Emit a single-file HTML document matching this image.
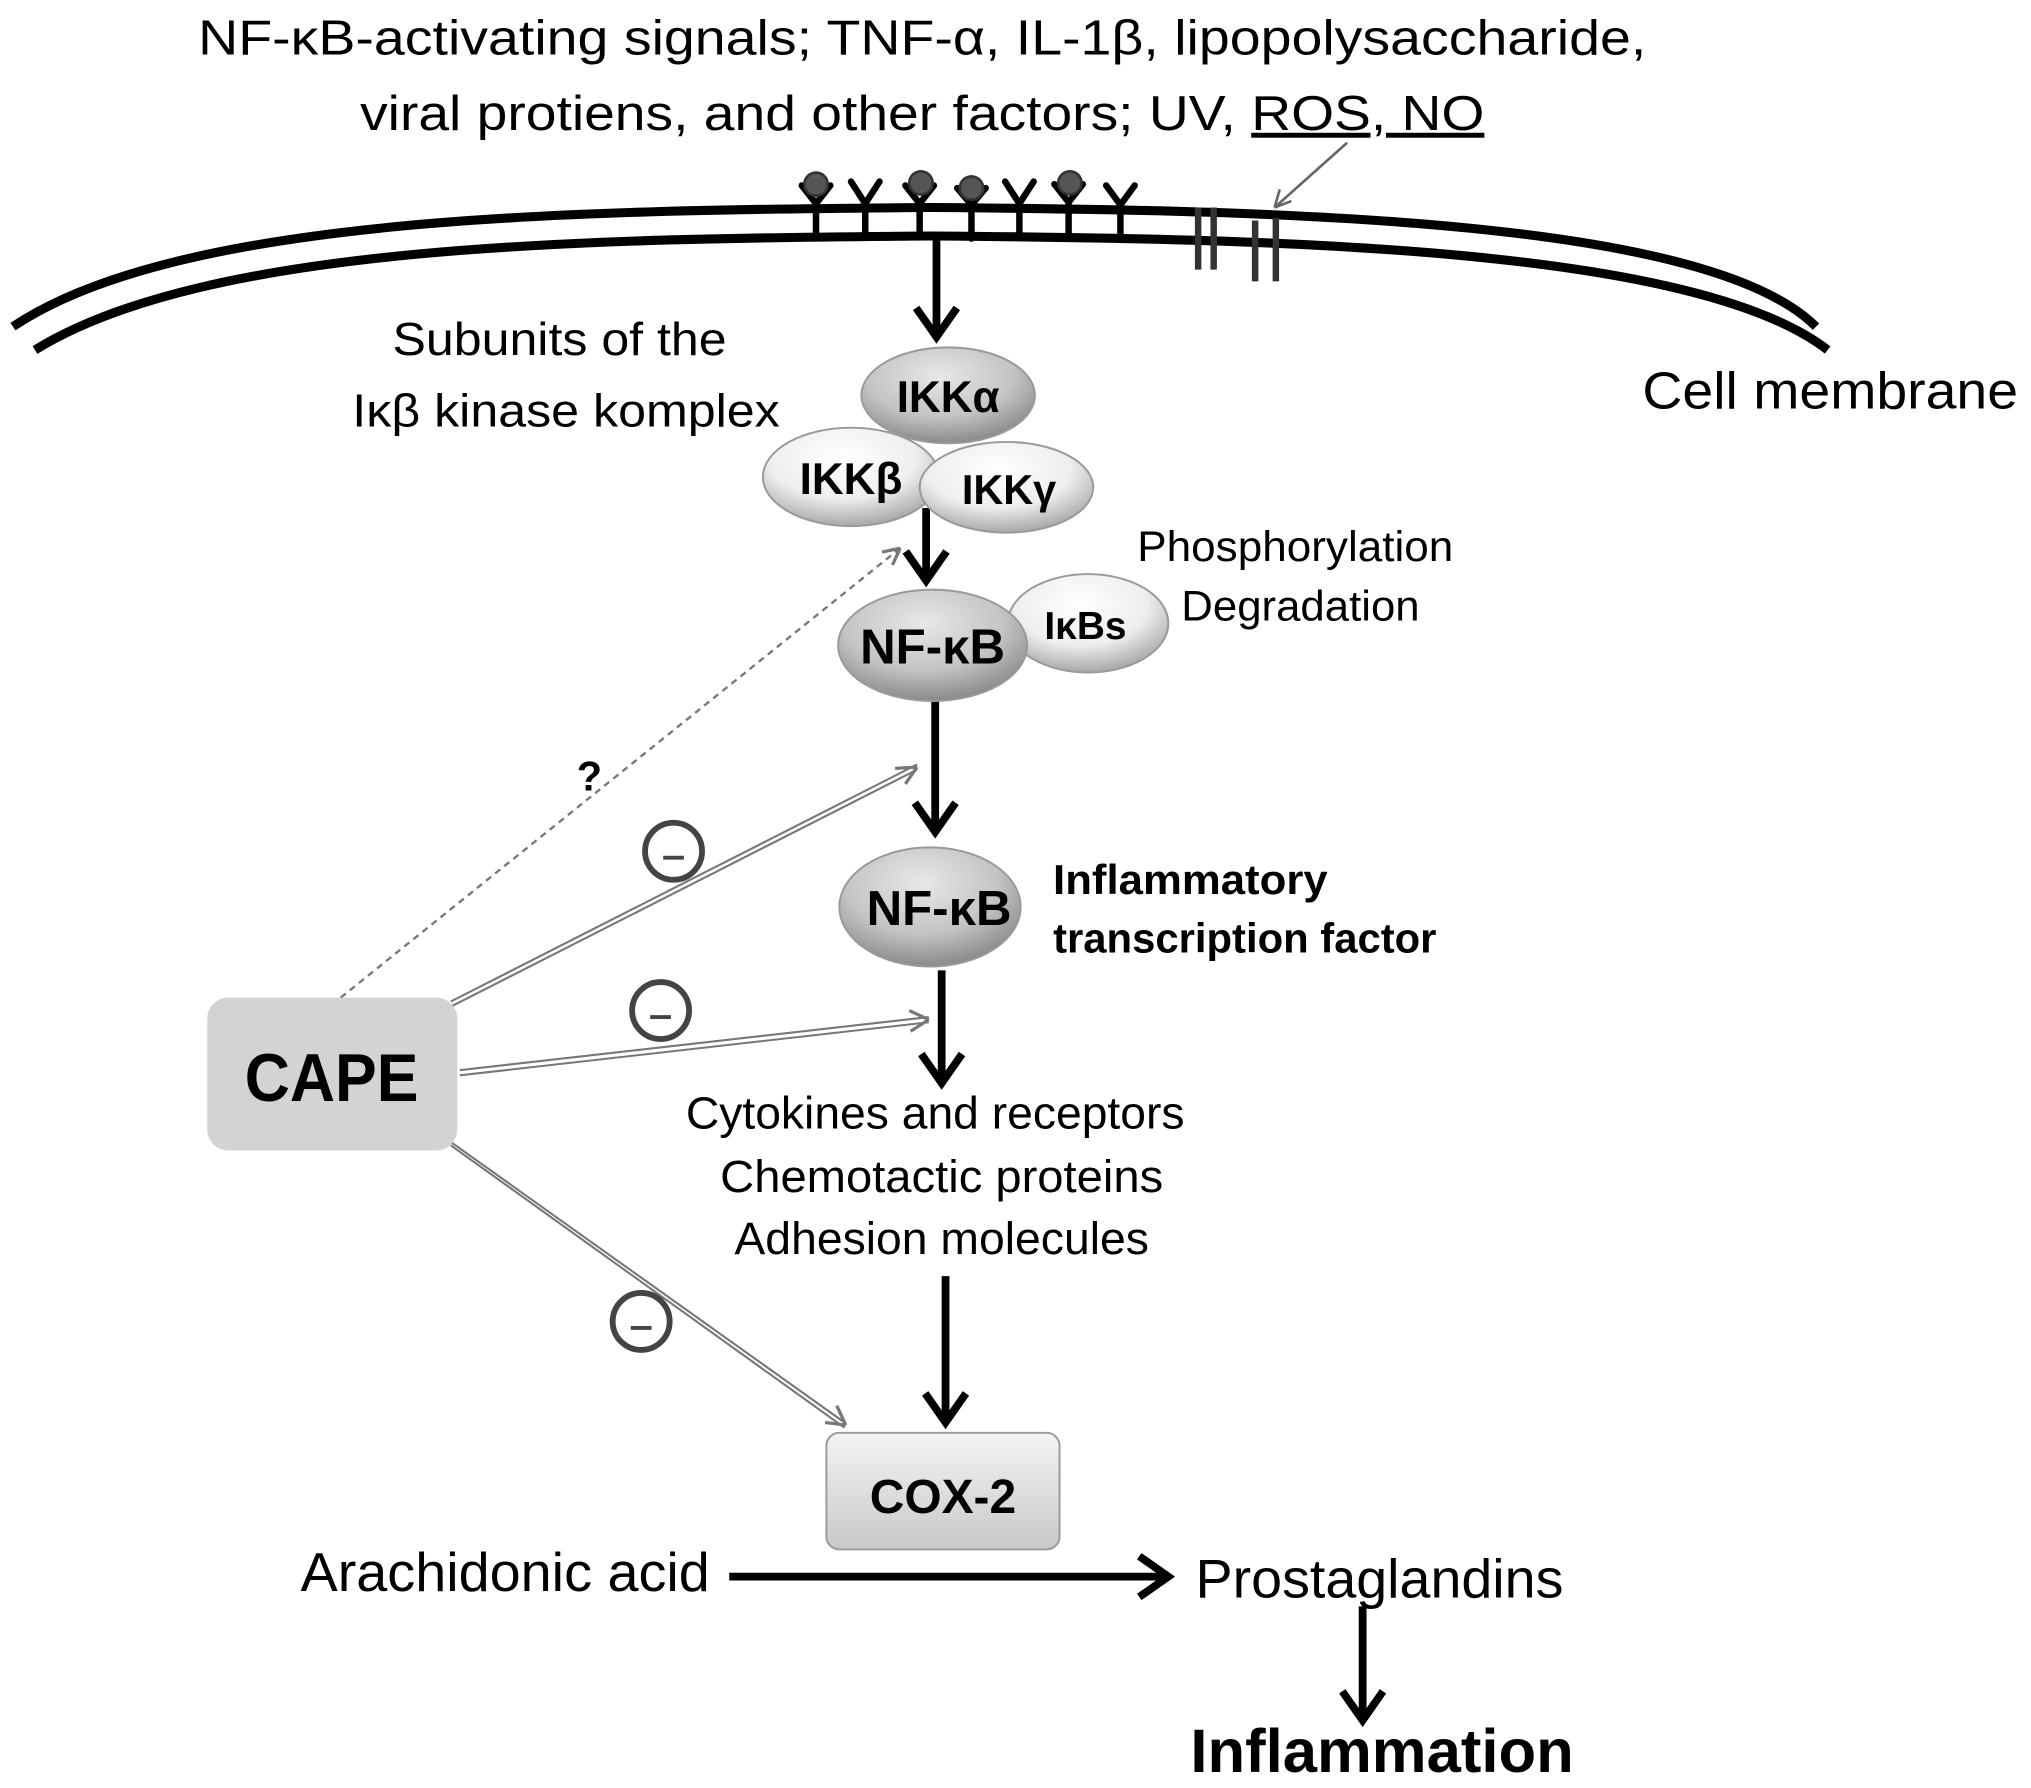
<!DOCTYPE html>
<html><head><meta charset="utf-8"><style>html,body{margin:0;padding:0;background:#fff}svg{display:block}</style></head>
<body>
<svg width="2031" height="1788" viewBox="0 0 1568 1380" xmlns="http://www.w3.org/2000/svg" font-family="Liberation Sans, sans-serif">
<defs>
<radialGradient id="gl" cx="45%" cy="30%" r="70%"><stop offset="0" stop-color="#ffffff"/><stop offset="0.6" stop-color="#eeeeee"/><stop offset="1" stop-color="#a8a8a8"/></radialGradient>
<radialGradient id="gd" cx="45%" cy="30%" r="70%"><stop offset="0" stop-color="#e8e8e8"/><stop offset="0.6" stop-color="#c4c4c4"/><stop offset="1" stop-color="#8a8a8a"/></radialGradient>
<linearGradient id="gb" x1="0" y1="0" x2="0" y2="1"><stop offset="0" stop-color="#f4f4f4"/><stop offset="1" stop-color="#c8c8c8"/></linearGradient>
</defs>

<!-- title -->
<text x="712" y="42" font-size="38" text-anchor="middle" textLength="1118" lengthAdjust="spacingAndGlyphs">NF-κB-activating signals; TNF-α, IL-1β, lipopolysaccharide,</text>
<text x="712" y="100" font-size="38" text-anchor="middle" textLength="868" lengthAdjust="spacingAndGlyphs">viral protiens, and other factors; UV, <tspan text-decoration="underline">ROS, NO</tspan></text>
<line x1="1040" y1="110" x2="984" y2="160" stroke="#666" stroke-width="2"/>
<path d="M984,160 l4,-14 M984,160 l13,-5" stroke="#666" stroke-width="2"/>

<!-- membrane -->
<path d="M10,252 C140,165 450,162 720,160 C1000,162 1320,170 1402,252" fill="none" stroke="#000" stroke-width="7"/>
<path d="M27,270 C160,188 450,184 720,182 C1000,184 1310,192 1411,270" fill="none" stroke="#000" stroke-width="7"/>

<!-- receptors -->
<g stroke="#000" stroke-width="5" fill="none" stroke-linecap="round">
<path d="M630,182 V157 M619,143 L630,157 L641,143"/>
<path d="M668,182 V157 M657,140 L668,157 L679,140"/>
<path d="M710,182 V157 M699,143 L710,157 L721,143"/>
<path d="M750,184 V158 M739,145 L750,158 L761,145"/>
<path d="M787,182 V157 M776,140 L787,157 L798,140"/>
<path d="M825,180 V156 M814,142 L825,156 L836,142"/>
<path d="M865,185 V158 M854,143 L865,158 L876,143"/>
</g>
<g fill="#555" stroke="#333" stroke-width="2">
<circle cx="630" cy="142" r="9"/><circle cx="711" cy="141" r="9"/><circle cx="750" cy="145" r="9"/><circle cx="826" cy="141" r="9"/>
</g>
<g stroke="#333" stroke-width="5">
<line x1="925" y1="160" x2="925" y2="208"/><line x1="937" y1="160" x2="937" y2="208"/>
<line x1="969" y1="170" x2="969" y2="217"/><line x1="985" y1="168" x2="985" y2="217"/>
</g>

<!-- black arrows -->
<g stroke="#000" stroke-width="6" fill="none" stroke-linecap="square">
<line x1="723" y1="188" x2="723" y2="258"/><path d="M709,240 L723,260 L737,240"/>
<line x1="715" y1="395" x2="715" y2="446"/><path d="M701,428 L715,448 L729,428"/>
<line x1="722" y1="543" x2="722" y2="640"/><path d="M708,622 L722,642 L736,622"/>
<line x1="727" y1="752" x2="727" y2="834"/><path d="M713,816 L727,836 L741,816"/>
<line x1="730" y1="988" x2="730" y2="1096"/><path d="M716,1078 L730,1098 L744,1078"/>
<line x1="566" y1="1217" x2="900" y2="1217"/><path d="M882,1203 L902,1217 L882,1231"/>
<line x1="1052" y1="1243" x2="1052" y2="1326"/><path d="M1038,1308 L1052,1328 L1066,1308"/>
</g>

<!-- ellipses -->
<g stroke="#999" stroke-width="1.5">
<ellipse cx="732" cy="305" rx="67" ry="37" fill="url(#gd)"/>
<ellipse cx="657" cy="368" rx="68" ry="38" fill="url(#gl)"/>
<ellipse cx="777" cy="376" rx="67" ry="35" fill="url(#gl)"/>
<ellipse cx="840" cy="481" rx="62" ry="38" fill="url(#gl)"/>
<ellipse cx="720" cy="498" rx="73" ry="43" fill="url(#gd)"/>
<ellipse cx="718" cy="700" rx="70" ry="46" fill="url(#gd)"/>
</g>
<g font-weight="bold" text-anchor="middle">
<text x="732" y="318" font-size="34">IKKα</text>
<text x="657" y="381" font-size="34">IKKβ</text>
<text x="779" y="389" font-size="32">IKKγ</text>
<text x="838" y="493" font-size="30">IκBs</text>
<text x="720" y="512" font-size="38">NF-κB</text>
<text x="725" y="714" font-size="38">NF-κB</text>
</g>

<!-- CAPE lines -->
<g stroke="#777" stroke-width="2.5" fill="none">
<line x1="263" y1="770" x2="695" y2="423" stroke-dasharray="5,4" stroke-width="1.8"/>
<path d="M695,423 l-14,3 M695,423 l-6,13" />
<path d="M348,773 L708,590 M348,777 L708,594" stroke-width="1.6"/>
<path d="M708,592 l-17,1 M708,592 l-9,13"/>
<path d="M355,826 L717,785 M355,830 L717,789" stroke-width="1.6"/>
<path d="M717,787 l-15,-7 M717,787 l-14,9"/>
<path d="M346,880 L652,1098 M348,884 L652,1102" stroke-width="1.6"/>
<path d="M653,1100 l-7,-15 M653,1100 l-16,-2"/>
</g>
<g stroke="#444" stroke-width="4.5" fill="#fff">
<circle cx="520" cy="657" r="22"/><circle cx="510" cy="780" r="22"/><circle cx="495" cy="1020" r="22"/>
</g>
<g stroke="#444" stroke-width="3"><line x1="512" y1="662" x2="528" y2="662"/><line x1="502" y1="785" x2="518" y2="785"/><line x1="487" y1="1025" x2="503" y2="1025"/></g>
<text x="455" y="610" font-size="32" font-weight="bold" text-anchor="middle">?</text>

<!-- boxes -->
<rect x="160" y="770" width="193" height="118" rx="16" fill="#d3d3d3"/>
<text x="256" y="850" font-size="52" font-weight="bold" text-anchor="middle" textLength="134" lengthAdjust="spacingAndGlyphs">CAPE</text>
<rect x="638" y="1106" width="180" height="90" rx="10" fill="url(#gb)" stroke="#999" stroke-width="1.5"/>
<text x="728" y="1168" font-size="37" font-weight="bold" text-anchor="middle">COX-2</text>

<!-- labels -->
<g text-anchor="middle" lengthAdjust="spacingAndGlyphs">
<text x="432" y="274" font-size="36" textLength="258" lengthAdjust="spacingAndGlyphs">Subunits of the</text>
<text x="437" y="329" font-size="36" textLength="330" lengthAdjust="spacingAndGlyphs">Iκβ kinase komplex</text>
<text x="1413" y="315" font-size="40" textLength="290" lengthAdjust="spacingAndGlyphs">Cell membrane</text>
<text x="1000" y="433" font-size="33" textLength="244" lengthAdjust="spacingAndGlyphs">Phosphorylation</text>
<text x="1004" y="479" font-size="33" textLength="184" lengthAdjust="spacingAndGlyphs">Degradation</text>
<text x="722" y="871" font-size="35" textLength="385" lengthAdjust="spacingAndGlyphs">Cytokines and receptors</text>
<text x="727" y="920" font-size="35" textLength="342" lengthAdjust="spacingAndGlyphs">Chemotactic proteins</text>
<text x="727" y="968" font-size="35" textLength="320" lengthAdjust="spacingAndGlyphs">Adhesion molecules</text>
<text x="390" y="1228" font-size="42" textLength="316" lengthAdjust="spacingAndGlyphs">Arachidonic acid</text>
<text x="1065" y="1233" font-size="42" textLength="284" lengthAdjust="spacingAndGlyphs">Prostaglandins</text>
<text x="1067" y="1368" font-size="47" font-weight="bold" textLength="296" lengthAdjust="spacingAndGlyphs">Inflammation</text>
</g>
<text x="813" y="690" font-size="32" font-weight="bold" textLength="212" lengthAdjust="spacingAndGlyphs">Inflammatory</text>
<text x="813" y="735" font-size="32" font-weight="bold" textLength="296" lengthAdjust="spacingAndGlyphs">transcription factor</text>
</svg>
</body></html>
